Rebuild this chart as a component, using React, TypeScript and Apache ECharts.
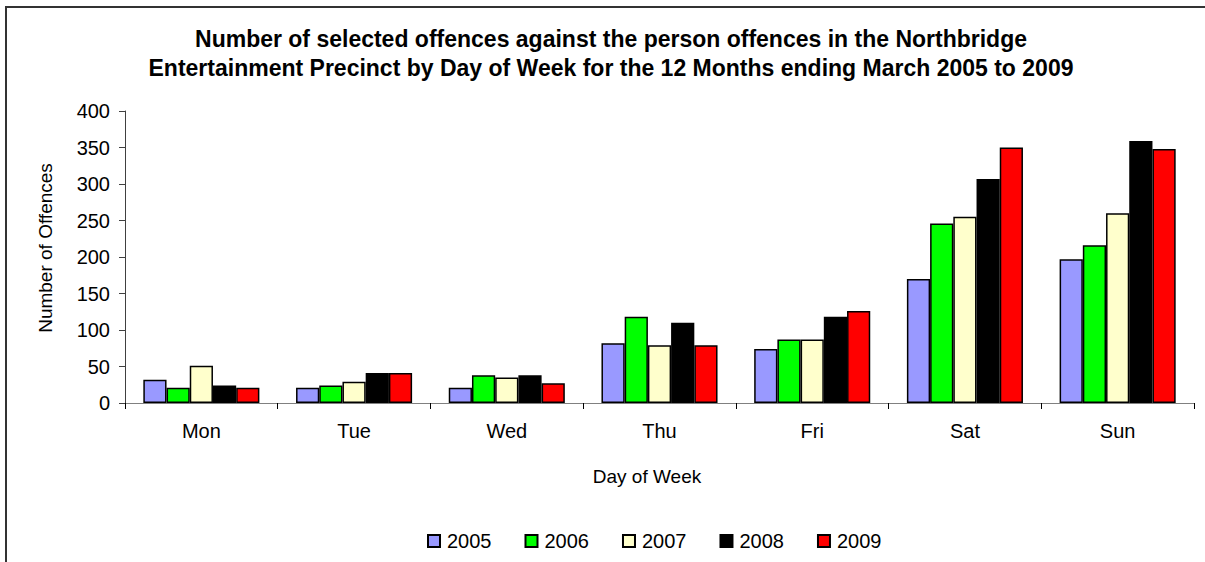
import React, { useEffect, useRef } from "react";
import * as echarts from "echarts";

const days = ["Mon", "Tue", "Wed", "Thu", "Fri", "Sat", "Sun"];
const years = ["2005", "2006", "2007", "2008", "2009"];
const v2005 = [32, 21, 21, 82, 74, 170, 197];
const v2006 = [21, 24, 38, 118, 87, 246, 216];
const v2007 = [51, 29, 35, 79, 87, 255, 260];
const v2008 = [24, 41, 38, 110, 118, 307, 359];
const v2009 = [21, 41, 27, 79, 126, 350, 348];
const yearColors = ["#9999ff", "#00ff00", "#ffffcc", "#000000", "#ff0000"];
const yTicks = { min: 0, max: 400, interval: 50 };
const titleLines = [
  "Number of selected offences against the person offences in the Northbridge",
  "Entertainment Precinct by Day of Week for the 12 Months ending March 2005 to 2009",
];
const xAxisTitle = "Day of Week";
const yAxisTitle = "Number of Offences";

export default function App() {
  const ref = useRef<HTMLDivElement>(null);
  useEffect(() => {
    if (!ref.current) return;
    const chart = echarts.init(ref.current, undefined, { renderer: "svg" });
    const values = [v2005, v2006, v2007, v2008, v2009];
    const font = "Arial, 'Liberation Sans', sans-serif";
    chart.setOption({
      animation: false,
      backgroundColor: "#ffffff",
      textStyle: { fontFamily: font },
      graphic: [
        {
          type: "rect",
          shape: { x: 6, y: 7, width: 1300, height: 700 },
          style: { fill: "none", stroke: "#333333", lineWidth: 2 },
          silent: true,
          z: -1,
        },
        {
          type: "text",
          x: 611,
          y: 38.5,
          style: {
            text: titleLines[0],
            font: "bold 23px " + font,
            fill: "#000",
            textAlign: "center",
            textVerticalAlign: "middle",
          },
        },
        {
          type: "text",
          x: 611,
          y: 68,
          style: {
            text: titleLines[1],
            font: "bold 23px " + font,
            fill: "#000",
            textAlign: "center",
            textVerticalAlign: "middle",
          },
        },
        {
          type: "text",
          x: 647,
          y: 476,
          style: {
            text: xAxisTitle,
            font: "19px " + font,
            fill: "#000",
            textAlign: "center",
            textVerticalAlign: "middle",
          },
        },
        {
          type: "text",
          x: 45,
          y: 248,
          rotation: Math.PI / 2,
          style: {
            text: yAxisTitle,
            font: "19px " + font,
            fill: "#000",
            textAlign: "center",
            textVerticalAlign: "middle",
          },
        },
      ],
      legend: {
        data: years,
        top: 531,
        left: 427,
        padding: 0,
        itemWidth: 12,
        itemHeight: 12,
        itemGap: 33,
        icon: "rect",
        textStyle: { fontSize: 20, color: "#000", fontFamily: font, padding: [0, 0, 0, 2] },
      },
      grid: { left: 125, right: 11, top: 111, bottom: 159 },
      xAxis: {
        type: "category",
        data: days,
        axisLine: { lineStyle: { color: "#808080", width: 1 } },
        axisTick: { show: true, alignWithLabel: false, length: 6, lineStyle: { color: "#000" } },
        axisLabel: { fontSize: 20, color: "#000", margin: 18 },
      },
      yAxis: {
        type: "value",
        min: yTicks.min,
        max: yTicks.max,
        interval: yTicks.interval,
        axisLine: { show: true, lineStyle: { color: "#404040", width: 1 } },
        axisTick: { show: true, length: 6, lineStyle: { color: "#404040" } },
        axisLabel: { fontSize: 20, color: "#000", margin: 15 },
        splitLine: { show: false },
      },
      series: years.map((y, i) => ({
        name: y,
        type: "bar",
        data: values[i],
        barGap: "0%",
        barCategoryGap: "24%",
        itemStyle: { color: yearColors[i], borderColor: "#000", borderWidth: 1.5 },
      })),
    });
    return () => chart.dispose();
  }, []);
  return (
    <div
      ref={ref}
      style={{ position: "fixed", left: 0, top: 0, width: 1205, height: 562 }}
    />
  );
}
